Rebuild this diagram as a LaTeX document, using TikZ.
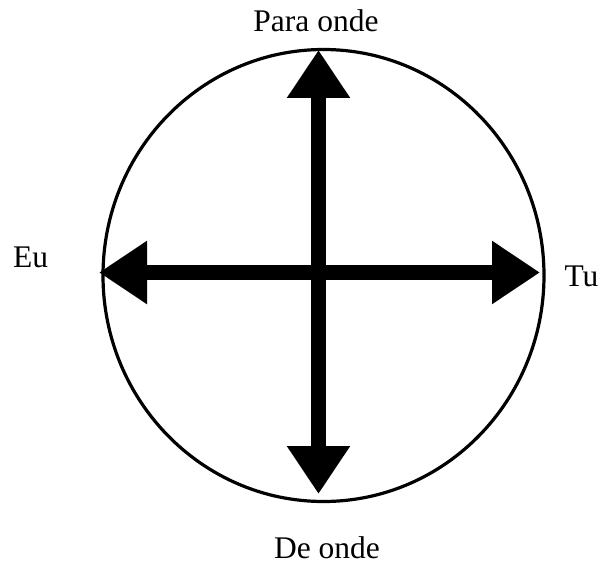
\documentclass[tikz,border=0pt]{standalone}
\usepackage{fontspec}
\setmainfont{Liberation Serif}
\usetikzlibrary{arrows.meta}
\begin{document}
\begin{tikzpicture}[x=1pt,y=-1pt,
  lbl/.style={font=\fontsize{31.5}{36}\selectfont, inner sep=0pt, anchor=base},
  bigarrow/.style={line width=15pt, {Triangle[length=48pt,width=60pt]}-{Triangle[length=48pt,width=60pt]}}]
\useasboundingbox (0,0) rectangle (604,569);
\draw[line width=3.2pt] (323.5,275.5) ellipse [x radius=220.5, y radius=226];
\coordinate (ttip) at (318.5,50);
\coordinate (btip) at (318.5,494);
\coordinate (ltip) at (99,272.5);
\coordinate (rtip) at (540,272.5);
\draw[bigarrow] (btip) -- (ttip);
\draw[bigarrow] (ltip) -- (rtip);
\node[lbl] (para) at (316,32) {Para onde};
\node[lbl] (de) at (327,558) {De onde};
\node[lbl] (eu) at (30.5,267) {Eu};
\node[lbl] (tu) at (581.5,286) {Tu};
\end{tikzpicture}
\end{document}
